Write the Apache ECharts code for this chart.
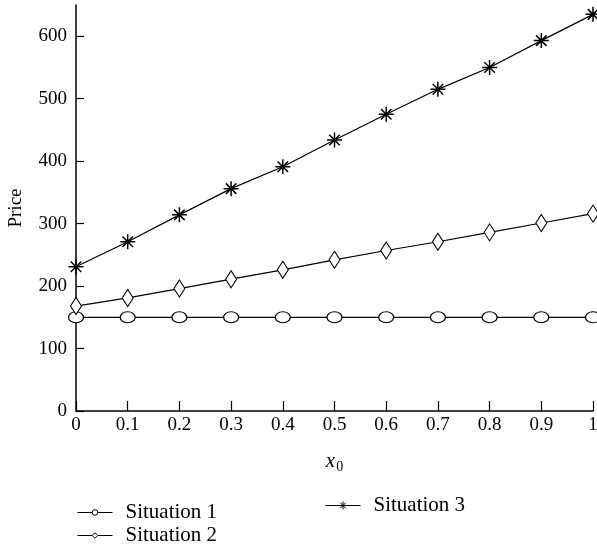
<!DOCTYPE html>
<html><head><meta charset="utf-8">
<script src="https://cdn.jsdelivr.net/npm/echarts@6/dist/echarts.min.js"></script>
<style>html,body{margin:0;padding:0;background:#fff}#c{width:597px;height:547px}</style>
</head><body><div id="c"></div>
<script>
const xValues = [0, 0.1, 0.2, 0.3, 0.4, 0.5, 0.6, 0.7, 0.8, 0.9, 1];
const situation1 = [150, 150, 150, 150, 150, 150, 150, 150, 150, 150, 150];
const situation2 = [168, 181, 196, 211, 226, 242, 257, 271, 286, 301, 316];
const situation3 = [231, 271, 314, 356, 391, 434, 475, 515, 550, 593, 635];
const yTicks = [0, 100, 200, 300, 400, 500, 600];
const seriesNames = ['Situation 1', 'Situation 2', 'Situation 3'];

const FONT = 'Liberation Serif';
const FS = 19;
const asterisk = 'path://M0,-10L0,10M-10,0L10,0M-7,-7L7,7M-7,7L7,-7';
const pairs = a => xValues.map((x, i) => [x, a[i]]);

const chart = echarts.init(document.getElementById('c'));
const base = {
  type: 'line',
  lineStyle: {color: '#000', width: 1.2},
  itemStyle: {color: '#fff', borderColor: '#000', borderWidth: 1.1},
  showAllSymbol: true,
  animation: false,
  z: 3
};
const legendCommon = {
  itemWidth: 35, itemHeight: 7, itemGap: 4, padding: 0,
  textStyle: {fontFamily: FONT, fontSize: 21, color: '#000', padding: [0, 0, 0, 8]},
  lineStyle: {width: 1},
  itemStyle: {borderWidth: 1},
  selectedMode: false
};
chart.setOption({
  animation: false,
  textStyle: {fontFamily: FONT},
  grid: {left: 76, right: 4, top: 5, bottom: 136, containLabel: false, outerBoundsMode: 'none'},
  legend: [
    Object.assign({data: [seriesNames[0]], left: 77, top: 502}, legendCommon),
    Object.assign({data: [seriesNames[1]], left: 77, top: 525}, legendCommon),
    Object.assign({}, legendCommon, {data: [seriesNames[2]], left: 325, top: 495, itemHeight: 10})
  ],
  xAxis: {
    type: 'value', min: 0, max: 1, interval: 0.1,
    name: '{i|x}{s|0}', nameLocation: 'middle', nameGap: 37,
    nameTextStyle: {rich: {
      i: {fontFamily: FONT, fontStyle: 'italic', fontSize: 21, color: '#000'},
      s: {fontFamily: FONT, fontSize: 14, color: '#000', padding: [12, 0, 0, 1]}
    }},
    axisLine: {lineStyle: {color: '#000', width: 1.5}},
    axisTick: {inside: true, length: 10, lineStyle: {color: '#000', width: 1.2}},
    axisLabel: {color: '#000', fontSize: FS, fontFamily: FONT, margin: 5,
      formatter: v => String(Math.round(v * 10) / 10)},
    splitLine: {show: false}
  },
  yAxis: {
    type: 'value', min: 0, max: 650,
    name: 'Price', nameLocation: 'middle', nameGap: 50,
    nameTextStyle: {color: '#000', fontSize: FS, fontFamily: FONT},
    axisLine: {show: true, lineStyle: {color: '#000', width: 1.5}},
    axisTick: {show: true, inside: true, length: 8, customValues: yTicks, lineStyle: {color: '#000', width: 1.2}},
    axisLabel: {color: '#000', fontSize: FS, fontFamily: FONT, margin: 9, customValues: yTicks},
    splitLine: {show: false}
  },
  series: [
    Object.assign({}, base, {name: seriesNames[0], data: pairs(situation1), symbol: 'circle', symbolSize: [15, 11]}),
    Object.assign({}, base, {name: seriesNames[1], data: pairs(situation2), symbol: 'diamond', symbolSize: [11, 17]}),
    Object.assign({}, base, {name: seriesNames[2], data: pairs(situation3), symbol: asterisk, symbolSize: 15,
      itemStyle: {color: 'none', borderColor: '#000', borderWidth: 1.5}})
  ]
});
</script></body></html>
